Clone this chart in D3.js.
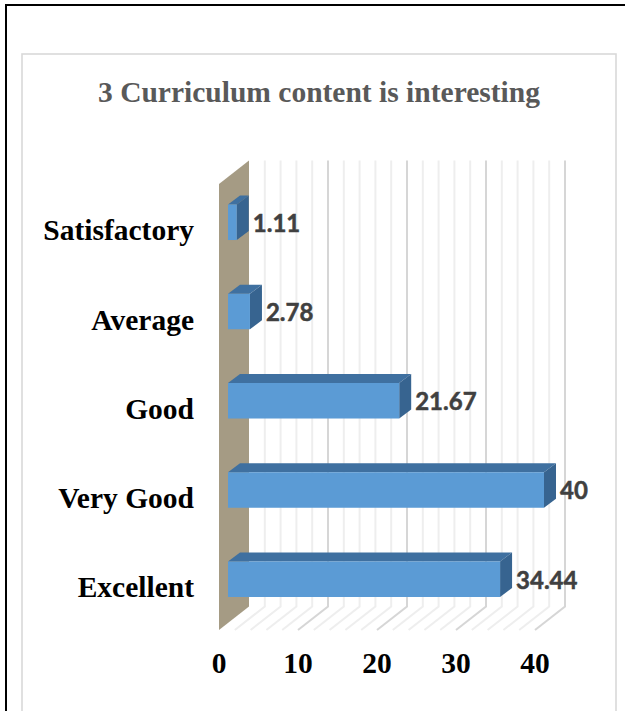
<!DOCTYPE html>
<html><head><meta charset="utf-8">
<style>html,body{margin:0;padding:0;background:#fff}svg{display:block}</style>
<script src="https://cdn.jsdelivr.net/npm/d3@7/dist/d3.min.js"></script>
</head><body><svg id="c" width="625" height="711"></svg>
<script>
const categories = ["Satisfactory","Average","Good","Very Good","Excellent"];
const values = [1.11,2.78,21.67,40,34.44];
const labels = ["1.11","2.78","21.67","40","34.44"];
const tickValues = [0,10,20,30,40];
const gridValues = d3.range(0,42,2);
const title = "3 Curriculum content is interesting";

const svg = d3.select("#c");
const serif = "'Liberation Serif','Times New Roman',serif";
const x = d3.scaleLinear().domain([0,40]).range([219,535]);
const y = d3.scaleBand().domain(categories).range([204.5,597]).paddingInner(0.602);
const floorFront = 630, wallTop = 184, depthX = 30, depthY = 23.5;
const barInset = 9, barDepthX = 12, barDepthY = 9;

// page and card frames
svg.append("line").attr("x1",6).attr("x2",6).attr("y1",4).attr("y2",711).attr("stroke","#000").attr("stroke-width",2);
svg.append("line").attr("x1",5).attr("x2",625).attr("y1",5).attr("y2",5).attr("stroke","#000").attr("stroke-width",2);
svg.append("rect").attr("x",22).attr("y",54).attr("width",594).attr("height",680).attr("fill","#fff").attr("stroke","#d9d9d9").attr("stroke-width",1.6);

svg.append("text").attr("x",319).attr("y",102).attr("text-anchor","middle")
  .attr("font-family",serif).attr("font-weight","bold").attr("font-size",29.5).attr("fill","#595959").text(title);

// back wall and floor grid
const major = d => d % 10 === 0;
const grid = svg.append("g").attr("fill","none");
grid.selectAll("path").data(gridValues.slice(1)).join("path")
  .attr("d",d=>`M${x(d)},${floorFront}L${x(d)+depthX},${floorFront-depthY}L${x(d)+depthX},${wallTop-depthY}`)
  .attr("stroke",d=>major(d)?"#d6d6d6":"#eeeeee").attr("stroke-width",2);

// side wall
svg.append("path").attr("fill","#a59b84")
  .attr("d",`M${x(0)},${wallTop}L${x(0)+depthX},${wallTop-depthY}L${x(0)+depthX},${floorFront-depthY}L${x(0)},${floorFront}Z`);

// bars
const bx = v => x(v)+barInset;
const bars = svg.append("g").selectAll("g").data(categories).join("g");
bars.append("path").attr("fill","#3f70a0")
  .attr("d",(c,i)=>{const r=bx(values[i]),l=bx(0),t=y(c);
    return `M${l},${t}L${l+barDepthX},${t-barDepthY}L${r+barDepthX},${t-barDepthY}L${r},${t}Z`;});
bars.append("path").attr("fill","#376490")
  .attr("d",(c,i)=>{const r=bx(values[i]),t=y(c),b=t+y.bandwidth();
    return `M${r},${t}L${r+barDepthX},${t-barDepthY}L${r+barDepthX},${b-barDepthY}L${r},${b}Z`;});
bars.append("rect").attr("fill","#5b9bd5")
  .attr("x",bx(0)).attr("y",c=>y(c)).attr("height",y.bandwidth())
  .attr("width",(c,i)=>bx(values[i])-bx(0));
bars.append("text").attr("x",(c,i)=>bx(values[i])+barDepthX+4)
  .attr("y",c=>y(c)+y.bandwidth()/2+9.5)
  .attr("font-family","Lato,'Open Sans',sans-serif").attr("font-weight","bold").attr("font-size",24).attr("fill","#404040")
  .attr("stroke","#404040").attr("stroke-width",0.5)
  .text((c,i)=>labels[i]);

// category axis
svg.append("g").selectAll("text").data(categories).join("text")
  .attr("x",194).attr("y",c=>y(c)+y.bandwidth()/2+18).attr("text-anchor","end")
  .attr("font-family",serif).attr("font-weight","bold").attr("font-size",29.5).attr("fill","#000").text(c=>c);

// value axis
svg.append("g").selectAll("text").data(tickValues).join("text")
  .attr("x",d=>x(d)).attr("y",673).attr("text-anchor","middle")
  .attr("font-family",serif).attr("font-weight","bold").attr("font-size",29.5).attr("fill","#000").text(d=>d);
</script></body></html>
